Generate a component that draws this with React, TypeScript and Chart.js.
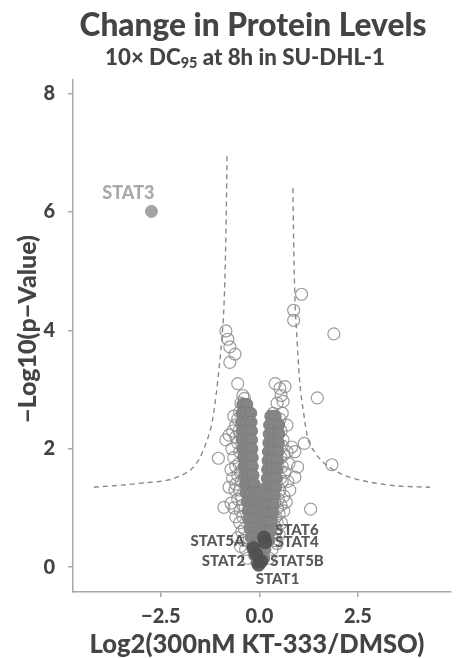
import React, { useEffect, useRef } from 'react';
import { Chart, registerables } from 'chart.js';

Chart.register(...registerables);

// ---------- text ----------
const TITLE = 'Change in Protein Levels';
const SUBTITLE_MAIN = '10× DC';
const SUBTITLE_SUB = '95';
const SUBTITLE_REST = ' at 8h in SU-DHL-1';
const X_TITLE = 'Log2(300nM KT-333/DMSO)';
const Y_TITLE = '−Log10(p−Value)';

// ---------- axes ----------
const X_TICKS = [-2.5, 0, 2.5];
const X_TICK_LABELS = ['−2.5', '0.0', '2.5'];
const Y_TICKS = [0, 2, 4, 6, 8];
const Y_TICK_LABELS = ['0', '2', '4', '6', '8'];

// ---------- data ----------
// dense core of the volcano (left arm)
const CORE_LEFT: [number, number][] = [
  [-0.42, 2.75], [-0.32, 2.75],
  [-0.44, 2.6], [-0.33, 2.6], [-0.22, 2.6],
  [-0.45, 2.45], [-0.33, 2.45], [-0.21, 2.45],
  [-0.44, 2.3], [-0.32, 2.3], [-0.2, 2.3],
  [-0.44, 2.15], [-0.32, 2.15], [-0.2, 2.15],
  [-0.42, 2.0], [-0.3, 2.0], [-0.19, 2.0],
  [-0.4, 1.85], [-0.29, 1.85], [-0.18, 1.85],
  [-0.39, 1.7], [-0.28, 1.7], [-0.18, 1.7],
  [-0.37, 1.55], [-0.26, 1.55], [-0.16, 1.55],
  [-0.35, 1.4], [-0.24, 1.4], [-0.13, 1.4],
  [-0.33, 1.25], [-0.22, 1.25], [-0.1, 1.25], [0.0, 1.25],
  [-0.31, 1.1], [-0.2, 1.1], [-0.08, 1.1], [0.02, 1.1],
  [-0.29, 0.95], [-0.17, 0.95], [-0.06, 0.95], [0.04, 0.95],
  [-0.27, 0.8], [-0.15, 0.8], [-0.04, 0.8],
  [-0.24, 0.65], [-0.13, 0.65], [-0.02, 0.65],
  [-0.21, 0.5], [-0.1, 0.5], [0.0, 0.5],
  [-0.17, 0.35], [-0.06, 0.35],
  [-0.12, 0.2], [-0.02, 0.2],
  [-0.06, 0.08],
];
// dense core of the volcano (right arm)
const CORE_RIGHT: [number, number][] = [
  [0.29, 2.55], [0.4, 2.55],
  [0.26, 2.4], [0.38, 2.4], [0.49, 2.4],
  [0.25, 2.25], [0.37, 2.25], [0.49, 2.25],
  [0.24, 2.1], [0.36, 2.1], [0.48, 2.1],
  [0.23, 1.95], [0.35, 1.95], [0.47, 1.95],
  [0.22, 1.8], [0.34, 1.8], [0.46, 1.8],
  [0.21, 1.65], [0.33, 1.65], [0.45, 1.65],
  [0.2, 1.5], [0.32, 1.5], [0.43, 1.5],
  [0.18, 1.35], [0.3, 1.35], [0.41, 1.35],
  [0.14, 1.2], [0.26, 1.2], [0.38, 1.2],
  [0.13, 1.05], [0.24, 1.05], [0.35, 1.05],
  [0.12, 0.9], [0.23, 0.9], [0.33, 0.9],
  [0.1, 0.75], [0.21, 0.75], [0.3, 0.75],
  [0.08, 0.6], [0.18, 0.6], [0.27, 0.6],
  [0.06, 0.45], [0.15, 0.45], [0.24, 0.45],
  [0.05, 0.3], [0.14, 0.3],
  [0.03, 0.15], [0.11, 0.15],
];
// individual proteins drawn as open rings (edges and outliers)
const RING_POINTS: [number, number][] = [
  [-0.85, 3.99], [-0.8, 3.85], [-0.75, 3.72], [-0.62, 3.6], [-0.75, 3.46],
  [-0.55, 3.1], [-0.47, 2.77], [-0.5, 2.62], [-0.6, 2.4], [-0.55, 2.5],
  [-0.42, 2.9], [-0.38, 2.85],
  [-0.85, 2.15], [-0.77, 2.23], [-0.6, 2.2], [-1.04, 1.84], [-0.7, 2.0],
  [-0.65, 1.85], [-0.72, 1.65], [-0.6, 1.7], [-0.55, 1.55], [-0.77, 1.35],
  [-0.6, 1.4], [-0.5, 1.3], [-0.55, 1.15], [-0.9, 1.01], [-0.72, 1.08],
  [-0.48, 0.95], [-0.5, 0.75], [-0.45, 0.6], [-0.4, 0.45], [-0.35, 0.3],
  [-0.3, 0.15],
  [-0.52, 2.3], [-0.55, 2.1], [-0.5, 1.95], [-0.52, 1.75], [-0.48, 1.6],
  [-0.46, 1.45], [-0.45, 1.2], [-0.42, 1.05], [-0.42, 0.85], [-0.38, 0.65],
  [-0.32, 0.5], [-0.65, 2.55], [-0.68, 2.3], [-0.62, 1.3], [-0.68, 1.5],
  [-0.65, 1.0], [-0.6, 0.85], [-0.55, 0.5], [-0.48, 0.35],
  [1.07, 4.61], [0.87, 4.34], [0.87, 4.17], [1.89, 3.94], [0.4, 3.1],
  [0.52, 3.02], [0.65, 3.05], [0.55, 2.9], [0.6, 2.8], [0.45, 2.77],
  [1.47, 2.86], [0.35, 2.6], [0.4, 2.45], [0.55, 2.3], [0.6, 2.15],
  [0.82, 2.03], [0.9, 1.95], [1.14, 2.09], [0.97, 1.69], [0.75, 1.75],
  [0.62, 1.9], [0.65, 1.6], [0.9, 1.52], [0.58, 1.45], [0.77, 1.3],
  [0.62, 1.2], [1.84, 1.73], [0.55, 1.05], [0.5, 0.9], [1.3, 0.98],
  [0.45, 0.75], [0.42, 0.6], [0.38, 0.45], [0.32, 0.3], [0.25, 0.15],
  [0.52, 2.5], [0.58, 2.6], [0.58, 2.05], [0.55, 1.85], [0.58, 1.7],
  [0.54, 1.5], [0.52, 1.3], [0.48, 1.15], [0.46, 1.0], [0.42, 0.85],
  [0.38, 0.7], [0.7, 2.4], [0.7, 1.95], [0.72, 1.45], [0.68, 1.1],
  [0.62, 0.95], [0.56, 0.75], [0.5, 0.55], [0.45, 0.4],
];
// highlighted significant protein
const HIT_NAMES = ['STAT3'];
const HIT_POINTS: [number, number][] = [[-2.74, 6.01]];
// other STAT family members
const STAT_NAMES = ['STAT6', 'STAT4', 'STAT5A', 'STAT2', 'STAT5B', 'STAT1'];
const STAT_POINTS: [number, number][] = [
  [0.12, 0.5], [0.15, 0.42], [-0.15, 0.32], [-0.08, 0.22], [0.05, 0.1], [-0.02, 0.04],
];
// significance cut-off curves
const CUTOFF_LEFT: [number, number][] = [
  [-4.2, 1.35], [-3.0, 1.42], [-2.09, 1.52], [-1.59, 1.76], [-1.34, 2.12],
  [-1.2, 2.45], [-1.1, 2.9], [-1.02, 3.38], [-0.96, 3.8], [-0.9, 4.4],
  [-0.87, 5.0], [-0.84, 6.0], [-0.82, 7.0],
];
const CUTOFF_RIGHT: [number, number][] = [
  [0.85, 6.4], [0.87, 5.5], [0.9, 4.56], [0.95, 3.9], [1.02, 3.16],
  [1.14, 2.53], [1.22, 2.2], [1.4, 1.95], [1.64, 1.76], [2.0, 1.6],
  [2.39, 1.5], [3.38, 1.38], [4.33, 1.35],
];

// ---------- styles ----------
const FONT = 'Lato, "Open Sans", sans-serif';
const WEIGHT = '900';
const TEXT_COLOR = '#444444';
const AXIS_COLOR = '#a8a8a8';
const LABEL_OFFSETS: Record<string, { dx: number; dy: number; align: CanvasTextAlign }> = {
  STAT3: { dx: -23, dy: -18, align: 'center' },
  STAT6: { dx: 11, dy: -7, align: 'left' },
  STAT4: { dx: 10, dy: 0, align: 'left' },
  STAT5A: { dx: -9, dy: -7, align: 'right' },
  STAT2: { dx: -11, dy: 7, align: 'right' },
  STAT5B: { dx: 9, dy: 0, align: 'left' },
  STAT1: { dx: 19, dy: 14, align: 'center' },
};

const toXY = (pts: [number, number][]) => pts.map(([x, y]) => ({ x, y }));

// font size at which a text spans a target width
const fitSize = (ctx: CanvasRenderingContext2D, text: string, width: number) => {
  ctx.font = `${WEIGHT} 20px ${FONT}`;
  const w = ctx.measureText(text).width || 1;
  return (20 * width) / w;
};

const textPlugin = {
  id: 'chartTexts',
  afterDatasetsDraw(chart: any) {
    const ctx = chart.ctx as CanvasRenderingContext2D;
    ctx.save();
    ctx.textBaseline = 'middle';
    const drawLabels = (idx: number, names: string[], color: string, size: number) => {
      const meta = chart.getDatasetMeta(idx);
      ctx.fillStyle = color;
      ctx.font = `${WEIGHT} ${size}px ${FONT}`;
      meta.data.forEach((el: any, i: number) => {
        const name = names[i];
        const o = LABEL_OFFSETS[name] || { dx: 0, dy: -14, align: 'center' };
        ctx.textAlign = o.align;
        ctx.fillText(name, el.x + o.dx, el.y + o.dy);
      });
    };
    drawLabels(0, STAT_NAMES, '#595959', 15);
    drawLabels(1, HIT_NAMES, '#a9a9a9', 18);
    ctx.restore();
  },
  afterDraw(chart: any) {
    const ctx = chart.ctx as CanvasRenderingContext2D;
    ctx.save();
    ctx.fillStyle = TEXT_COLOR;
    ctx.textBaseline = 'middle';
    ctx.textAlign = 'center';
    const ts = fitSize(ctx, TITLE, 347);
    ctx.font = `${WEIGHT} ${ts}px ${FONT}`;
    ctx.fillText(TITLE, 253, 26);

    // subtitle with subscript
    ctx.font = `${WEIGHT} 20px ${FONT}`;
    const wRaw =
      ctx.measureText(SUBTITLE_MAIN + SUBTITLE_REST).width +
      ctx.measureText(SUBTITLE_SUB).width * 0.65;
    const ss = (20 * 280) / wRaw;
    const mainFont = `${WEIGHT} ${ss}px ${FONT}`;
    const subFont = `${WEIGHT} ${ss * 0.65}px ${FONT}`;
    ctx.font = mainFont;
    const w1 = ctx.measureText(SUBTITLE_MAIN).width;
    const w3 = ctx.measureText(SUBTITLE_REST).width;
    ctx.font = subFont;
    const w2 = ctx.measureText(SUBTITLE_SUB).width;
    let sx = 245 - (w1 + w2 + w3) / 2;
    ctx.textAlign = 'left';
    ctx.font = mainFont;
    ctx.fillText(SUBTITLE_MAIN, sx, 58);
    sx += w1;
    ctx.font = subFont;
    ctx.fillText(SUBTITLE_SUB, sx, 63);
    sx += w2;
    ctx.font = mainFont;
    ctx.fillText(SUBTITLE_REST, sx, 58);

    // axis titles
    ctx.textAlign = 'center';
    const xs = fitSize(ctx, X_TITLE, 335);
    ctx.font = `${WEIGHT} ${xs}px ${FONT}`;
    ctx.fillText(X_TITLE, 257, 645);
    const ys = Math.min(fitSize(ctx, Y_TITLE, 203), 25);
    ctx.font = `${WEIGHT} ${ys}px ${FONT}`;
    ctx.translate(28, 329);
    ctx.rotate(-Math.PI / 2);
    ctx.fillText(Y_TITLE, 0, 0);
    ctx.restore();
  },
};

export default function App() {
  const canvasRef = useRef<HTMLCanvasElement | null>(null);

  useEffect(() => {
    const canvas = canvasRef.current;
    if (!canvas) return;
    const chart = new Chart(canvas, {
      type: 'scatter',
      data: {
        datasets: [
          {
            label: 'STAT family',
            data: toXY(STAT_POINTS),
            pointRadius: 6.5,
            backgroundColor: 'rgba(80,80,80,0.9)',
            borderColor: 'rgba(80,80,80,0.9)',
            borderWidth: 1,
            order: 0,
          },
          {
            label: 'Hits',
            data: toXY(HIT_POINTS),
            pointRadius: 6,
            backgroundColor: '#a3a3a3',
            borderColor: '#a3a3a3',
            borderWidth: 1,
            order: 0,
          },
          {
            label: 'Cutoff left',
            type: 'line',
            data: toXY(CUTOFF_LEFT),
            showLine: true,
            pointRadius: 0,
            borderColor: '#8a8a8a',
            borderWidth: 1.4,
            borderDash: [5, 4],
            cubicInterpolationMode: 'monotone',
            fill: false,
            order: 1,
          },
          {
            label: 'Cutoff right',
            type: 'line',
            data: toXY(CUTOFF_RIGHT),
            showLine: true,
            pointRadius: 0,
            borderColor: '#8a8a8a',
            borderWidth: 1.4,
            borderDash: [5, 4],
            cubicInterpolationMode: 'monotone',
            fill: false,
            order: 1,
          },
          {
            label: 'Core',
            data: toXY([...CORE_LEFT, ...CORE_RIGHT]),
            pointRadius: 6,
            backgroundColor: '#858585',
            borderColor: '#7e7e7e',
            borderWidth: 1,
            order: 2,
          },
          {
            label: 'Proteins',
            data: toXY(RING_POINTS),
            pointRadius: 6,
            backgroundColor: 'rgba(0,0,0,0)',
            borderColor: 'rgba(140,140,140,0.85)',
            borderWidth: 1.2,
            order: 3,
          },
        ],
      },
      options: {
        responsive: false,
        animation: false,
        devicePixelRatio: 1,
        layout: { padding: { top: 80, right: 0, bottom: 0, left: 0 } },
        plugins: {
          legend: { display: false },
          tooltip: { enabled: false },
          title: { display: false },
        },
        scales: {
          x: {
            type: 'linear',
            min: -4.73,
            max: 4.85,
            afterFit: (s: any) => {
              s.height = 66;
            },
            afterBuildTicks: (s: any) => {
              s.ticks = X_TICKS.map((v) => ({ value: v }));
            },
            ticks: {
              callback: (v: any) => {
                const i = X_TICKS.indexOf(Number(v));
                return i >= 0 ? X_TICK_LABELS[i] : '';
              },
              font: { family: FONT, size: 20, weight: WEIGHT },
              color: TEXT_COLOR,
              padding: 8,
              maxRotation: 0,
            },
            grid: {
              drawOnChartArea: false,
              drawTicks: true,
              tickLength: 5,
              color: AXIS_COLOR,
              lineWidth: 1.5,
            },
            border: { display: true, color: AXIS_COLOR, width: 1.5 },
          },
          y: {
            type: 'linear',
            min: -0.42,
            max: 8.23,
            afterFit: (s: any) => {
              s.width = 73;
            },
            afterBuildTicks: (s: any) => {
              s.ticks = Y_TICKS.map((v) => ({ value: v }));
            },
            ticks: {
              callback: (v: any) => {
                const i = Y_TICKS.indexOf(Number(v));
                return i >= 0 ? Y_TICK_LABELS[i] : '';
              },
              font: { family: FONT, size: 20, weight: WEIGHT },
              color: TEXT_COLOR,
              padding: 13,
            },
            grid: {
              drawOnChartArea: false,
              drawTicks: true,
              tickLength: 5,
              color: AXIS_COLOR,
              lineWidth: 1.5,
            },
            border: { display: true, color: AXIS_COLOR, width: 1.5 },
          },
        },
      },
      plugins: [textPlugin],
    } as any);
    return () => chart.destroy();
  }, []);

  return (
    <div style={{ position: 'absolute', left: 0, top: 0, width: 458, height: 658, background: '#fff' }}>
      <canvas ref={canvasRef} width={458} height={658} style={{ display: 'block' }} />
    </div>
  );
}
